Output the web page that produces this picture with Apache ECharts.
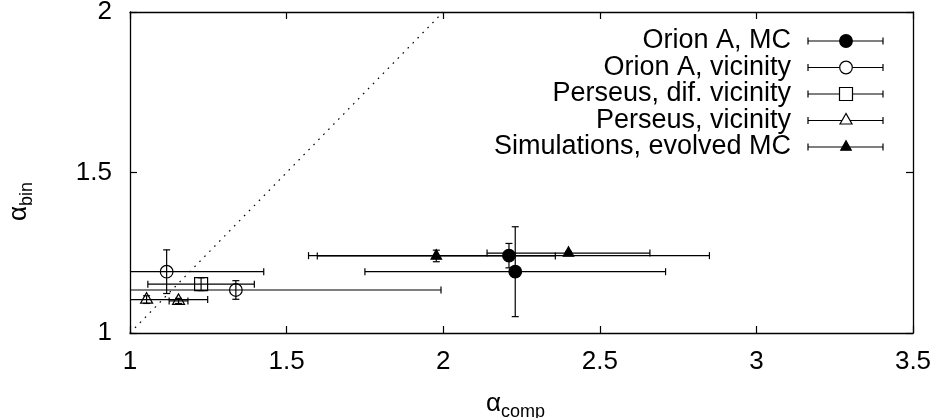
<!DOCTYPE html>
<html>
<head>
<meta charset="utf-8">
<script src="https://cdn.jsdelivr.net/npm/echarts@6/dist/echarts.min.js"></script>
<style>html,body{margin:0;padding:0;background:#fff}#c{width:940px;height:418px}</style>
</head>
<body>
<div id="c"></div>
<script>
// Each point: [alpha_comp, alpha_bin, error in alpha_comp, error in alpha_bin]
const orionMC = [[2.21, 1.241, 0.64, 0.038], [2.23, 1.191, 0.48, 0.14]];
const orionVicinity = [[1.117, 1.191, 0.31, 0.068], [1.338, 1.134, 0.655, 0.029]];
const perseusDifVicinity = [[1.227, 1.152, 0.17, 0.02]];
const perseusVicinity = [[1.053, 1.104, 0.195, 0.012], [1.155, 1.100, 0.03, 0.008]];
const simulations = [[1.978, 1.240, 0.38, 0.018], [2.40, 1.249, 0.26, 0.005]];
const identityLine = [[1, 1], [2, 2]];
const seriesNames = ['Orion A, MC', 'Orion A, vicinity', 'Perseus, dif. vicinity', 'Perseus, vicinity', 'Simulations, evolved MC'];
const xTicks = {min: 1, max: 3.5, interval: 0.5};
const yTicks = {min: 1, max: 2, interval: 0.5};

const FONT = 'Liberation Sans, Arial, sans-serif';
const LW = 1.2;
const CAP = 3.5;

function markerShape(kind, cx, cy) {
  const fill = (kind === 'fcircle' || kind === 'ftriangle') ? '#000' : 'none';
  const style = {fill: fill, stroke: '#000', lineWidth: LW};
  if (kind === 'fcircle' || kind === 'ocircle') {
    return {type: 'circle', shape: {cx: cx, cy: cy, r: 6.3}, style: style};
  }
  if (kind === 'osquare') {
    return {type: 'rect', shape: {x: cx - 6.5, y: cy - 6.5, width: 13, height: 13}, style: style};
  }
  const h = kind === 'ftriangle' ? 9.5 : 10.5;
  const w = kind === 'ftriangle' ? 10.5 : 12;
  return {type: 'polygon', shape: {points: [[cx, cy - h * 2 / 3], [cx - w / 2, cy + h / 3], [cx + w / 2, cy + h / 3]]}, style: style};
}

function makeRender(kind) {
  return function (params, api) {
    const x = api.value(0), y = api.value(1), xe = api.value(2), ye = api.value(3);
    const c = api.coord([x, y]);
    const l = api.coord([x - xe, y]);
    const r = api.coord([x + xe, y]);
    const t = api.coord([x, y + ye]);
    const b = api.coord([x, y - ye]);
    const ls = {stroke: '#000', lineWidth: LW};
    const ch = [
      {type: 'line', shape: {x1: l[0], y1: c[1], x2: r[0], y2: c[1]}, style: ls},
      {type: 'line', shape: {x1: l[0], y1: c[1] - CAP, x2: l[0], y2: c[1] + CAP}, style: ls},
      {type: 'line', shape: {x1: r[0], y1: c[1] - CAP, x2: r[0], y2: c[1] + CAP}, style: ls},
      {type: 'line', shape: {x1: c[0], y1: t[1], x2: c[0], y2: b[1]}, style: ls},
      {type: 'line', shape: {x1: c[0] - CAP, y1: t[1], x2: c[0] + CAP, y2: t[1]}, style: ls},
      {type: 'line', shape: {x1: c[0] - CAP, y1: b[1], x2: c[0] + CAP, y2: b[1]}, style: ls},
      markerShape(kind, c[0], c[1])
    ];
    return {type: 'group', children: ch};
  };
}

const kinds = ['fcircle', 'ocircle', 'osquare', 'otriangle', 'ftriangle'];
const datasets = [orionMC, orionVicinity, perseusDifVicinity, perseusVicinity, simulations];

const series = datasets.map(function (d, i) {
  return {
    name: seriesNames[i], type: 'custom', xAxisIndex: 0, yAxisIndex: 0,
    clip: true, renderItem: makeRender(kinds[i]), data: d, silent: true, z: 3
  };
});
series.unshift({
  type: 'line', data: identityLine, symbol: 'none', silent: true, z: 2,
  lineStyle: {color: '#000', width: 1.2, type: [1.6, 5.5]}
});

// legend (gnuplot style, drawn as graphics)
const legendGraphics = [];
const rowY0 = 41, rowDY = 26.5, textRight = 791, lineL = 808, lineR = 883, mX = 846;
seriesNames.forEach(function (n, i) {
  const y = rowY0 + i * rowDY;
  const ls = {stroke: '#000', lineWidth: LW};
  legendGraphics.push({type: 'text', x: textRight, y: y, style: {text: n, font: '27px ' + FONT, fill: '#000', textAlign: 'right', textVerticalAlign: 'middle'}});
  legendGraphics.push({type: 'line', shape: {x1: lineL, y1: y, x2: lineR, y2: y}, style: ls});
  legendGraphics.push({type: 'line', shape: {x1: lineL, y1: y - CAP, x2: lineL, y2: y + CAP}, style: ls});
  legendGraphics.push({type: 'line', shape: {x1: lineR, y1: y - CAP, x2: lineR, y2: y + CAP}, style: ls});
  const m = markerShape(kinds[i], mX, y);
  if (kinds[i] === 'ocircle' || kinds[i] === 'osquare' || kinds[i] === 'otriangle') m.style.fill = '#fff';
  legendGraphics.push(m);
});

const axisCommon = {
  axisLine: {show: true, lineStyle: {color: '#000', width: 1.3}},
  axisTick: {show: true, inside: true, length: 7, lineStyle: {color: '#000', width: 1.2}},
  splitLine: {show: false},
  minorTick: {show: false}
};

const richName = {
  a: {fontSize: 26, fontFamily: FONT, color: '#000', verticalAlign: 'top', lineHeight: 30},
  s: {fontSize: 18, fontFamily: FONT, color: '#000', verticalAlign: 'bottom', lineHeight: 20, padding: [17, 0, 0, 0]}
};

const chart = echarts.init(document.getElementById('c'), null, {renderer: 'canvas'});
chart.setOption({
  animation: false,
  backgroundColor: '#fff',
  grid: {left: 130, right: 27, top: 12, bottom: 85, containLabel: false, outerBoundsMode: 'none'},
  xAxis: [
    Object.assign({
      type: 'value', position: 'bottom', min: xTicks.min, max: xTicks.max, interval: xTicks.interval,
      axisLabel: {color: '#000', fontSize: 26, fontFamily: FONT, margin: 16, formatter: function (v) { return String(v); }},
      name: '{a|α}{s|comp}', nameLocation: 'middle', nameGap: 58,
      nameTextStyle: {rich: richName, padding: [0, 12, 0, 0]}
    }, axisCommon),
    Object.assign({
      type: 'value', position: 'top', min: xTicks.min, max: xTicks.max, interval: xTicks.interval,
      axisLabel: {show: false}
    }, axisCommon)
  ],
  yAxis: [
    Object.assign({
      type: 'value', position: 'left', min: yTicks.min, max: yTicks.max, interval: yTicks.interval,
      axisLabel: {color: '#000', fontSize: 26, fontFamily: FONT, margin: 18, formatter: function (v) { return String(v); }},
      name: '{a|α}{s|bin}', nameLocation: 'middle', nameGap: 94, nameRotate: 90,
      nameTextStyle: {rich: richName, padding: [0, 58, 0, 0]}
    }, axisCommon),
    Object.assign({
      type: 'value', position: 'right', min: yTicks.min, max: yTicks.max, interval: yTicks.interval,
      axisLabel: {show: false}
    }, axisCommon)
  ],
  graphic: legendGraphics,
  series: series
});
</script>
</body>
</html>
